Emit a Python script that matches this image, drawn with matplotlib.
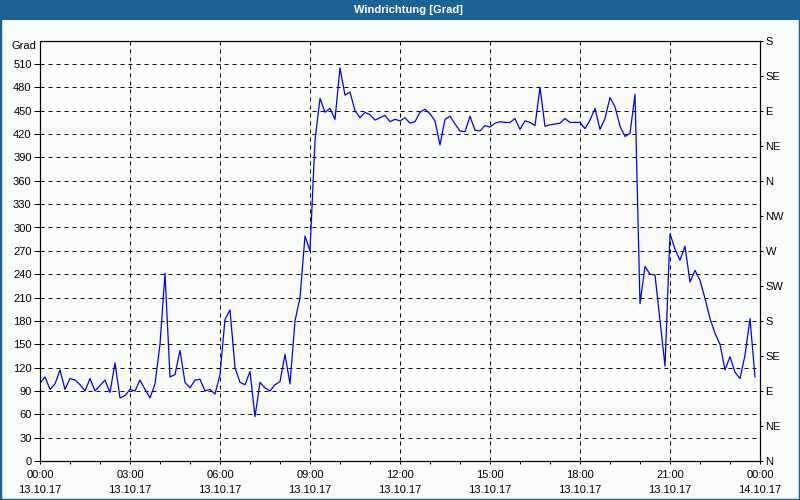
import matplotlib
matplotlib.use('Agg')
import matplotlib.pyplot as plt
import matplotlib.dates as mdates
from matplotlib.patches import Rectangle
import pandas as pd
from datetime import datetime

plt.rcParams['font.family'] = ['Liberation Sans', 'DejaVu Sans']
plt.rcParams['font.size'] = 8

# wind direction, 10-minute values from 13.10.17 00:00
wind_dir = [
    100, 108, 92, 99, 117, 92, 106, 104, 98, 90, 106, 90, 97, 104, 88, 126,
    81, 84, 92, 90, 104, 92, 81, 99, 150, 241, 108, 111, 142, 101, 94, 104,
    105, 90, 92, 86, 111, 182, 194, 120, 101, 98, 115, 57, 101, 94, 90, 98,
    102, 137, 99, 180, 210, 289, 270, 412, 466, 448, 453, 439, 505, 470, 474, 450,
    441, 448, 445, 438, 441, 444, 436, 439, 437, 441, 434, 436, 448, 452, 446, 437,
    406, 439, 443, 433, 424, 423, 443, 425, 424, 431, 429, 434, 436, 435, 435, 440,
    426, 437, 435, 431, 480, 430, 432, 433, 434, 440, 435, 435, 435, 427, 438, 453,
    426, 440, 467, 455, 430, 417, 421, 471, 202, 250, 240, 239, 181, 122, 292, 272,
    258, 276, 230, 245, 232, 209, 183, 164, 150, 117, 134, 114, 106, 136, 183, 108,
]
start = '2017-10-13 00:00'
y_left_ticks = list(range(0, 511, 30))
compass_ticks = list(range(0, 541, 45))
compass_labels = ['N', 'NE', 'E', 'SE', 'S', 'SW', 'W', 'NW',
                  'N', 'NE', 'E', 'SE', 'S']

times = pd.date_range(start, periods=len(wind_dir), freq='10min')

BG = '#FAFDFA'
BAR = '#1E6294'

fig = plt.figure(figsize=(8, 5), dpi=100, facecolor=BG)

# title bar + window border
fig.patches.append(Rectangle((0, 480 / 500), 1, 20 / 500, transform=fig.transFigure,
                             facecolor=BAR, edgecolor='none', zorder=0))
fig.patches.append(Rectangle((0, 0), 1, 1, transform=fig.transFigure, fill=False,
                             edgecolor=BAR, linewidth=2.5, zorder=0))
fig.text(408 / 800, 490 / 500, 'Windrichtung [Grad]', color='white',
         fontweight='bold', ha='center', va='center', fontsize=8)
fig.text(36 / 800, (500 - 46) / 500, 'Grad', ha='right', va='center')

ax = fig.add_axes([40 / 800, 39 / 500, 720 / 800, 420.3 / 500])
ax.set_facecolor(BG)
ax.plot(times, wind_dir, '-', color='#0000FF', linewidth=0.9, zorder=3)

ax.set_xlim(datetime(2017, 10, 13), datetime(2017, 10, 14))
ax.set_ylim(0, 540)
ax.set_yticks(y_left_ticks)
ax.xaxis.set_major_locator(mdates.HourLocator(byhour=range(0, 24, 3)))
ax.xaxis.set_minor_locator(mdates.HourLocator())
ax.xaxis.set_major_formatter(mdates.DateFormatter('%H:%M\n%d.%m.%y'))
for lbl in ax.get_xticklabels():
    lbl.set_linespacing(1.6)

ax.grid(True, which='major', color='black', linestyle=(0, (4, 4)), linewidth=0.72)
ax.tick_params(axis='y', direction='out', length=4, width=0.72, pad=2)
ax.tick_params(axis='x', which='both', direction='out', length=2.5, width=0.72, pad=4)
for s in ax.spines.values():
    s.set_linewidth(0.8)

ax2 = ax.twinx()
ax2.set_ylim(0, 540)
ax2.set_yticks(compass_ticks)
ax2.set_yticklabels(compass_labels)
ax2.tick_params(axis='y', direction='out', length=2.5, width=0.72, pad=1.5)
for s in ax2.spines.values():
    s.set_linewidth(0.8)

fig.savefig('out.png', dpi=100, facecolor=BG)
